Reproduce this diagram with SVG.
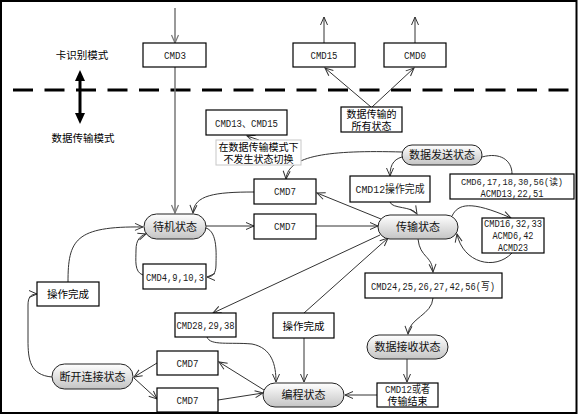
<svg xmlns="http://www.w3.org/2000/svg" width="578" height="415" viewBox="0 0 578 415">
<style>
.box{fill:#fff;stroke:#000;stroke-width:1.2}
.pill{fill:url(#pg);stroke:#222;stroke-width:1}
.note{fill:#fff;stroke:#c8c8c8;stroke-width:1}
.c{fill:none;stroke:#333;stroke-width:1;marker-end:url(#ah)}
.cn{fill:none;stroke:#333;stroke-width:1}
.m{font-family:"Liberation Mono","Noto Sans CJK SC",monospace;font-size:11px;fill:#1a1a1a;text-anchor:middle}
.z{font-family:"Noto Sans CJK SC",sans-serif;font-size:10.5px;fill:#000;text-anchor:middle}
.z2{font-family:"Noto Sans CJK SC",sans-serif;font-size:10px;fill:#000;text-anchor:middle}
.p{font-family:"Noto Sans CJK SC",sans-serif;font-size:11px;fill:#111;text-anchor:middle}
</style>
<defs>
<linearGradient id="pg" x1="0" y1="0" x2="0" y2="1">
<stop offset="0" stop-color="#ffffff"/>
<stop offset="1" stop-color="#c4c4c4"/>
</linearGradient>
<marker id="ah" markerUnits="userSpaceOnUse" markerWidth="10" markerHeight="10" viewBox="0 0 10 10" refX="9" refY="5" orient="auto">
<path d="M1,1.5 L9,5 L1,8.5" fill="none" stroke="#333" stroke-width="1"/>
</marker>
<marker id="ahg" markerUnits="userSpaceOnUse" markerWidth="10" markerHeight="10" viewBox="0 0 10 10" refX="9" refY="5" orient="auto">
<path d="M1,1.5 L9,5 L1,8.5" fill="none" stroke="#777" stroke-width="1.2"/>
</marker>
</defs>
<rect x="1" y="1" width="575.5" height="412" fill="#fff" stroke="#000" stroke-width="2"/>

<g id="mode-divider">
<line x1="13" y1="90" x2="570" y2="90" stroke="#000" stroke-width="3" stroke-dasharray="20 11.5"/>
<line x1="80" y1="79" x2="80" y2="115" stroke="#000" stroke-width="3"/>
<polygon points="80,70 75,81 85,81" fill="#000"/>
<polygon points="80,124 75,113 85,113" fill="#000"/>
<text class="z" x="82" y="59">卡识别模式</text>
<text class="z" x="83" y="142">数据传输模式</text>
</g>

<g id="connectors">
<line x1="175" y1="8" x2="175" y2="43" fill="none" stroke="#777" stroke-width="1.5" marker-end="url(#ahg)"/>
<line x1="175" y1="67" x2="175" y2="213" fill="none" stroke="#777" stroke-width="1.5" marker-end="url(#ahg)"/>
<line class="c" x1="324" y1="43" x2="324" y2="17"/>
<line class="c" x1="415" y1="43" x2="415" y2="17"/>
<line class="c" x1="371" y1="107" x2="325" y2="68"/>
<line class="c" x1="372" y1="107" x2="414" y2="68"/>
<line class="c" x1="259" y1="140" x2="247" y2="136"/>
<path class="c" d="M402,152 C330,150 288,155 286,179"/>
<path class="c" d="M254,192 C215,192 194,195 193,213"/>
<line class="c" x1="206" y1="226" x2="254" y2="226"/>
<line class="c" x1="316" y1="226" x2="378" y2="226"/>
<line class="c" x1="381" y1="219" x2="317" y2="193"/>
<path class="c" d="M406,156 C395,158 390,163 390,176"/>
<path class="c" d="M390,202 C392,209 412,206 417,214"/>
<path class="cn" d="M482,157 C500,152 512,160 512,174"/>
<path class="c" d="M452,216 C458,204 470,200 511,218"/>
<path class="c" d="M512,253 C495,271 463,263 457,234"/>
<path class="c" d="M418,239 C420,258 432,255 433,272"/>
<path class="c" d="M433,298 C432,315 409,318 408,334"/>
<line class="c" x1="407" y1="359" x2="407" y2="382"/>
<line class="c" x1="377" y1="395" x2="345" y2="395"/>
<line class="c" x1="380" y1="235" x2="213" y2="313"/>
<line class="c" x1="304" y1="313" x2="388" y2="238"/>
<line class="c" x1="304" y1="338" x2="304" y2="382"/>
<path class="c" d="M207,337 C210,346 230,342 252,344 C272,348 276,365 276,382"/>
<line class="c" x1="264" y1="390" x2="219" y2="362"/>
<line class="c" x1="218" y1="400" x2="263" y2="393"/>
<line class="c" x1="157" y1="363" x2="134" y2="377"/>
<line class="c" x1="134" y1="378" x2="157" y2="399"/>
<path class="c" d="M52,377 C30,375 28,360 28,340 L28,305 C28,297 31,294 37,294"/>
<path class="c" d="M68,282 C68,240 75,226 143,227"/>
<path class="c" d="M206,228 C218,232 216,255 216,265 C216,274 212,277 207,277"/>
<path class="c" d="M143,275 C134,272 136,260 136,250 C136,240 140,236 146,234"/>
</g>

<g id="cmd3"><rect class="box" x="143" y="43" width="63" height="24"/><text class="m" x="175" y="59" textLength="22" lengthAdjust="spacingAndGlyphs">CMD3</text></g>
<g id="cmd15"><rect class="box" x="293" y="43" width="62" height="24"/><text class="m" x="324" y="59" textLength="27" lengthAdjust="spacingAndGlyphs">CMD15</text></g>
<g id="cmd0"><rect class="box" x="384" y="43" width="62" height="24"/><text class="m" x="415" y="59" textLength="22" lengthAdjust="spacingAndGlyphs">CMD0</text></g>
<g id="all-states"><rect class="box" x="341" y="107" width="61" height="25"/><text class="z2" x="371.5" y="117.5">数据传输的</text><text class="z2" x="371.5" y="129.5">所有状态</text></g>
<g id="cmd13-15"><rect class="box" x="206" y="110" width="81" height="25"/><text class="m" x="246.5" y="127" textLength="63" lengthAdjust="spacingAndGlyphs">CMD13、CMD15</text></g>
<g id="note"><rect class="note" x="216" y="140" width="85" height="25"/><text class="z2" x="258.5" y="150.5">在数据传输模式下</text><text class="z2" x="258.5" y="162.5">不发生状态切换</text></g>
<g id="send-state"><rect class="pill" x="402" y="145" width="80" height="20" rx="10"/><text class="p" x="442" y="159">数据发送状态</text></g>
<g id="cmd12-done"><rect class="box" x="350" y="176" width="80" height="26"/><text class="m" x="390" y="193" textLength="69" lengthAdjust="spacingAndGlyphs">CMD12操作完成</text></g>
<g id="cmd6-read"><rect class="box" x="450" y="174" width="124" height="25"/><text class="m" x="512" y="185" style="font-size:9.5px" textLength="102" lengthAdjust="spacingAndGlyphs">CMD6,17,18,30,56(读)</text><text class="m" x="512" y="197" textLength="63" lengthAdjust="spacingAndGlyphs">ACMD13,22,51</text></g>
<g id="cmd7-upper"><rect class="box" x="254" y="179" width="62" height="25"/><text class="m" x="285" y="195" textLength="22" lengthAdjust="spacingAndGlyphs">CMD7</text></g>
<g id="cmd7-lower"><rect class="box" x="254" y="214" width="62" height="25"/><text class="m" x="285" y="230" textLength="22" lengthAdjust="spacingAndGlyphs">CMD7</text></g>
<g id="standby-state"><rect class="pill" x="144" y="214" width="62" height="25" rx="12.5"/><text class="p" x="175" y="230.5">待机状态</text></g>
<g id="transfer-state"><rect class="pill" x="378" y="215" width="80" height="24" rx="12"/><text class="p" x="418" y="231">传输状态</text></g>
<g id="cmd16"><rect class="box" x="482" y="218" width="62" height="35"/><text class="m" x="513" y="227" textLength="58" lengthAdjust="spacingAndGlyphs">CMD16,32,33</text><text class="m" x="513" y="239" textLength="41" lengthAdjust="spacingAndGlyphs">ACMD6,42</text><text class="m" x="513" y="251" textLength="30" lengthAdjust="spacingAndGlyphs">ACMD23</text></g>
<g id="cmd4"><rect class="box" x="143" y="264" width="63" height="25"/><text class="m" x="175" y="281" textLength="58" lengthAdjust="spacingAndGlyphs">CMD4,9,10,3</text></g>
<g id="cmd24-write"><rect class="box" x="365" y="273" width="137" height="25"/><text class="m" x="433" y="290" textLength="124" lengthAdjust="spacingAndGlyphs">CMD24,25,26,27,42,56(写)</text></g>
<g id="op-done-left"><rect class="box" x="37" y="282" width="62" height="24"/><text class="z" x="68" y="298">操作完成</text></g>
<g id="cmd28"><rect class="box" x="175" y="313" width="61" height="24"/><text class="m" x="205.5" y="329" textLength="58" lengthAdjust="spacingAndGlyphs">CMD28,29,38</text></g>
<g id="op-done-mid"><rect class="box" x="273" y="313" width="61" height="25"/><text class="z" x="303.5" y="330">操作完成</text></g>
<g id="receive-state"><rect class="pill" x="367" y="335" width="81" height="24" rx="12"/><text class="p" x="407.5" y="351">数据接收状态</text></g>
<g id="cmd7-a"><rect class="box" x="157" y="351" width="61" height="24"/><text class="m" x="187.5" y="367" textLength="22" lengthAdjust="spacingAndGlyphs">CMD7</text></g>
<g id="disconnect-state"><rect class="pill" x="52" y="364" width="81" height="25" rx="12.5"/><text class="p" x="92.5" y="380.5">断开连接状态</text></g>
<g id="cmd7-b"><rect class="box" x="157" y="388" width="61" height="24"/><text class="m" x="187.5" y="404" textLength="22" lengthAdjust="spacingAndGlyphs">CMD7</text></g>
<g id="program-state"><rect class="pill" x="263" y="383" width="81" height="24" rx="12"/><text class="p" x="303.5" y="399">编程状态</text></g>
<g id="cmd12-end"><rect class="box" x="377" y="383" width="61" height="24"/><text class="m" x="407.5" y="393" textLength="45" lengthAdjust="spacingAndGlyphs">CMD12或者</text><text class="z2" x="407.5" y="405">传输结束</text></g>
</svg>
